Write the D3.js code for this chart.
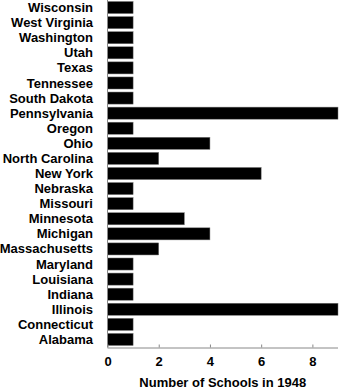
<!DOCTYPE html>
<html>
<head>
<meta charset="utf-8">
<script src="https://cdn.jsdelivr.net/npm/d3@7"></script>
<style>
  body { margin: 0; background: #fff; }
  text { font-family: "Liberation Sans", Arial, sans-serif; font-weight: bold; fill: #000; }
</style>
</head>
<body>
<svg id="chart" width="340" height="392"></svg>
<script>
// States, top to bottom as drawn
const states = [
  "Wisconsin", "West Virginia", "Washington", "Utah", "Texas", "Tennessee",
  "South Dakota", "Pennsylvania", "Oregon", "Ohio", "North Carolina", "New York",
  "Nebraska", "Missouri", "Minnesota", "Michigan", "Massachusetts", "Maryland",
  "Louisiana", "Indiana", "Illinois", "Connecticut", "Alabama"
];
const schools = [1, 1, 1, 1, 1, 1, 1, 9, 1, 4, 2, 6, 1, 1, 3, 4, 2, 1, 1, 1, 9, 1, 1];
const xTicks = [0, 2, 4, 6, 8];
const xTitle = "Number of Schools in 1948";

const svg = d3.select("#chart");
const plotLeft = 107.5, plotRight = 338, plotTop = 0, plotBottom = 347.5;

const x = d3.scaleLinear().domain([0, 9]).range([plotLeft, plotRight]);
const y = d3.scaleBand().domain(states).range([plotTop, plotBottom - 0.5])
  .paddingInner(0.2).paddingOuter(0.1);

// bars
svg.append("g")
  .selectAll("rect")
  .data(states)
  .join("rect")
  .attr("x", x(0))
  .attr("y", d => y(d))
  .attr("width", (d, i) => x(schools[i]) - x(0))
  .attr("height", y.bandwidth())
  .attr("fill", "#000")
  .attr("stroke", "#777")
  .attr("stroke-width", 0.5);

// left line
svg.append("line")
  .attr("x1", plotLeft).attr("x2", plotLeft)
  .attr("y1", plotTop).attr("y2", plotBottom)
  .attr("stroke", "#888").attr("stroke-width", 1);

// category labels
svg.append("g")
  .selectAll("text")
  .data(states)
  .join("text")
  .attr("x", 93)
  .attr("y", d => y(d) + y.bandwidth() / 2)
  .attr("dy", "0.35em")
  .attr("text-anchor", "end")
  .attr("font-size", 13)
  .text(d => d);

// x axis
const xAxis = svg.append("g")
  .attr("transform", `translate(0,${plotBottom})`)
  .call(d3.axisBottom(x).tickValues(xTicks).tickSizeInner(-3).tickSizeOuter(0).tickPadding(9));
xAxis.select(".domain").attr("stroke", "#888").attr("d", `M${plotLeft},0.5H${plotRight}`);
xAxis.selectAll(".tick line").attr("stroke", "#888");
xAxis.selectAll(".tick text")
  .attr("font-size", 13)
  .attr("font-family", "Liberation Sans, Arial, sans-serif")
  .attr("font-weight", "bold")
  .attr("fill", "#000");

// axis title
svg.append("text")
  .attr("x", (plotLeft + plotRight) / 2)
  .attr("y", 387)
  .attr("text-anchor", "middle")
  .attr("font-size", 13)
  .text(xTitle);
</script>
</body>
</html>
